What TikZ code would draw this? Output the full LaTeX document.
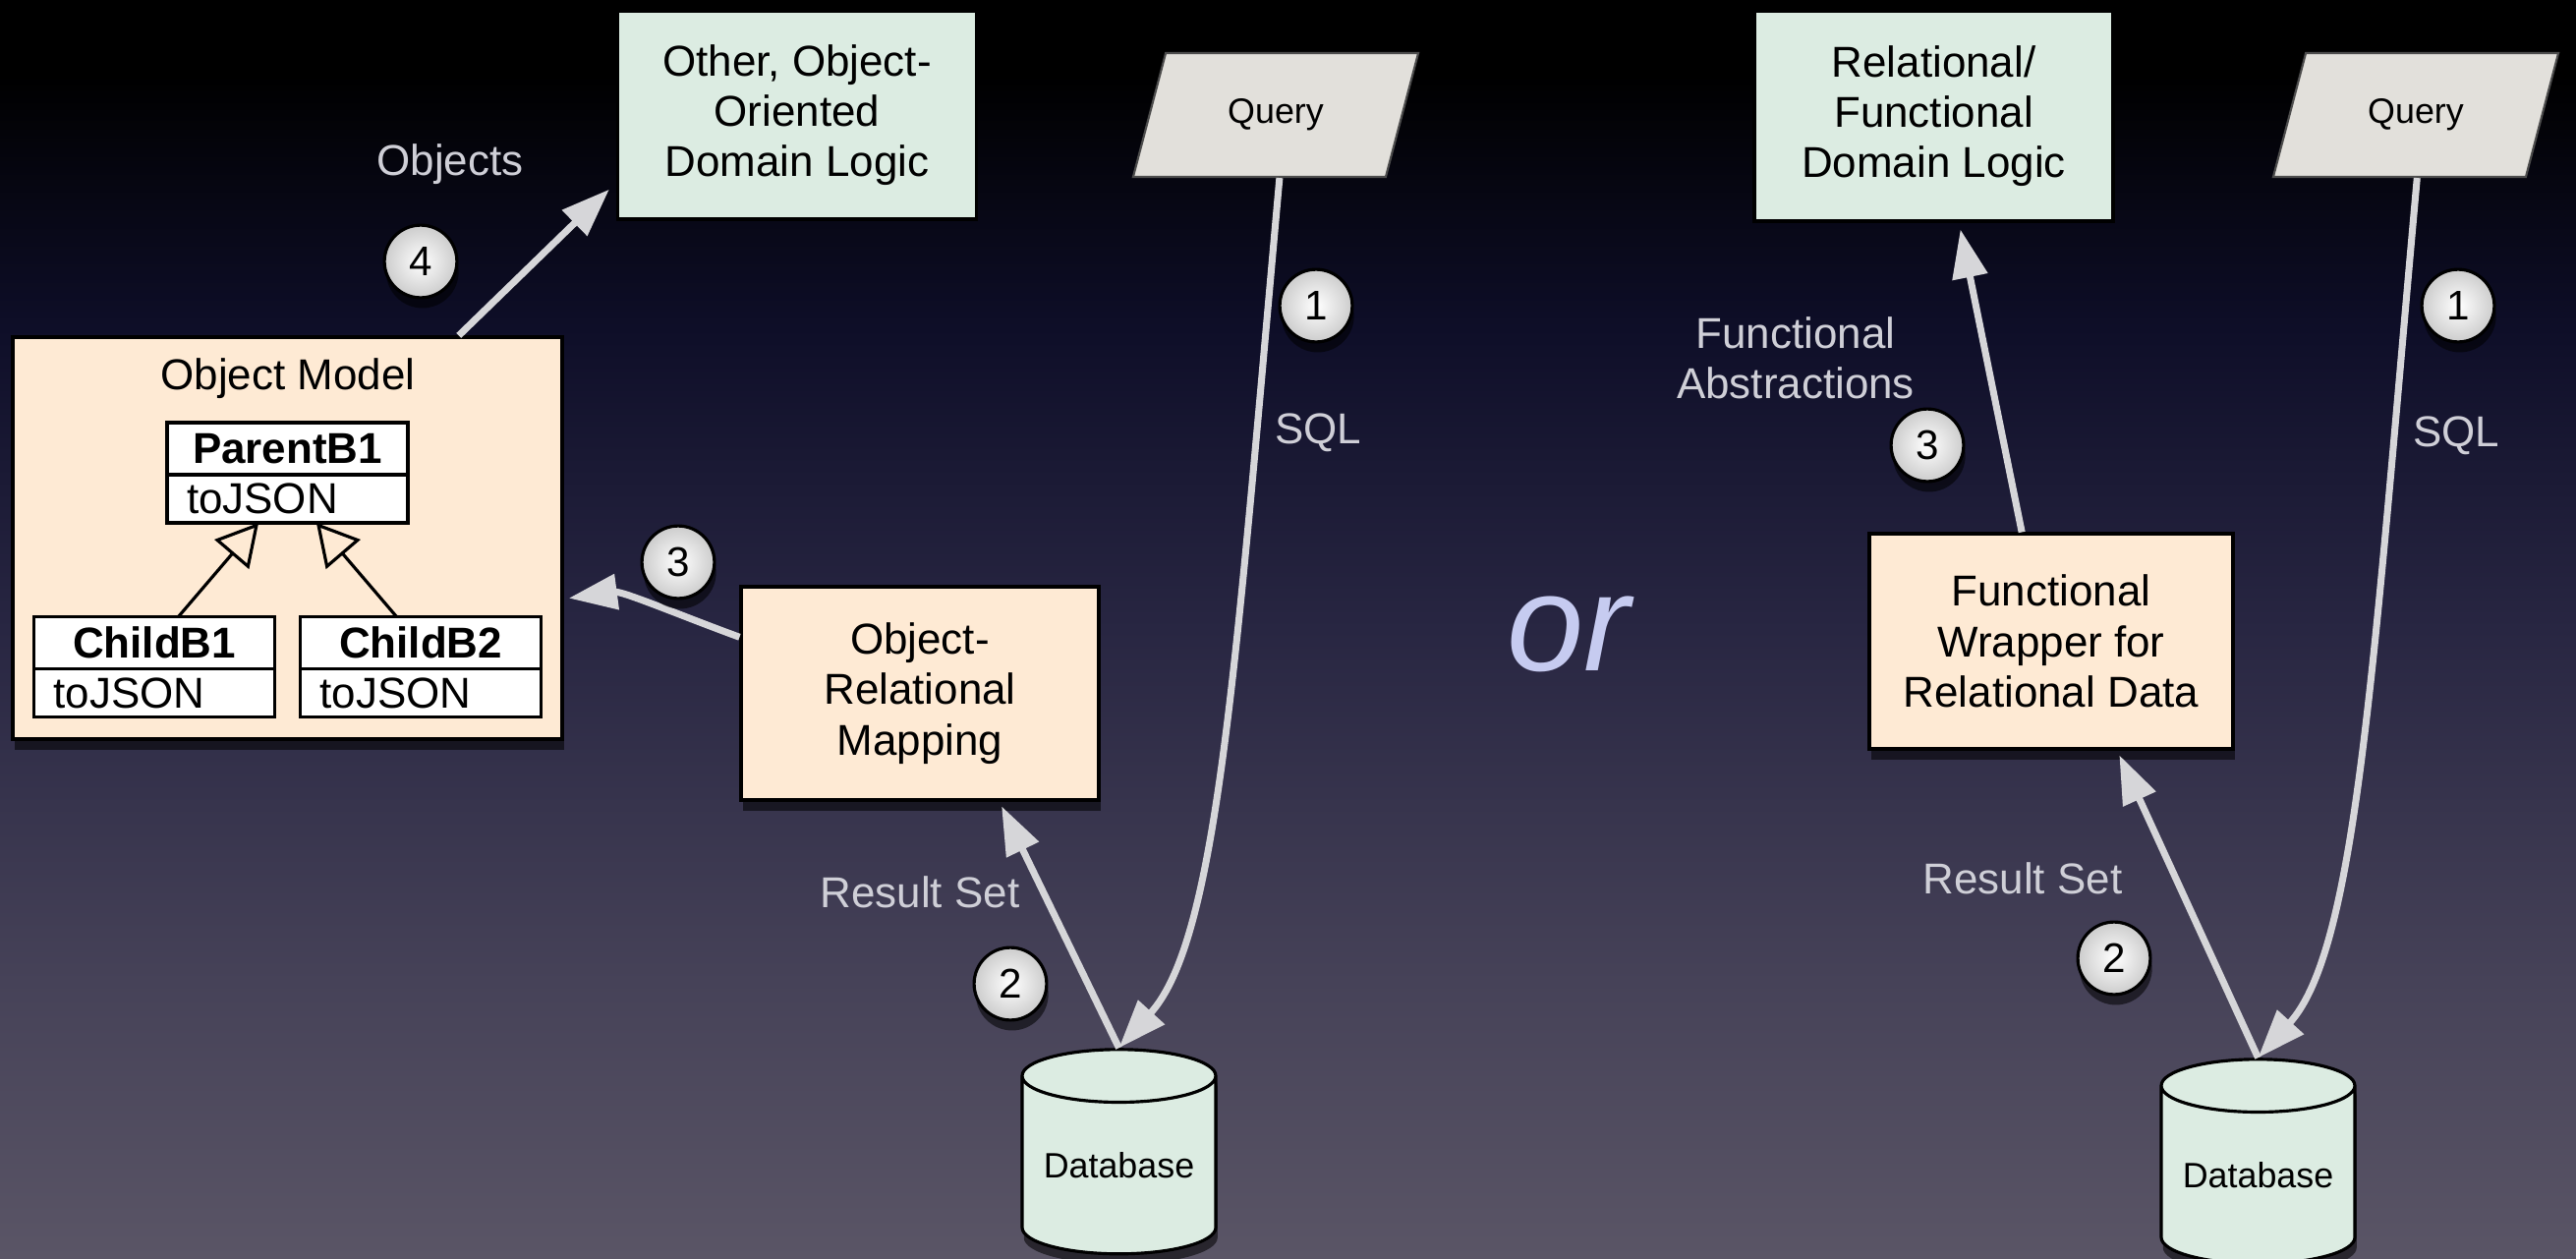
\documentclass[tikz,border=0pt]{standalone}
\usepackage{fontspec}
\setmainfont{Liberation Sans}
\usetikzlibrary{arrows.meta, positioning, calc, shapes.geometric, shadows}
\definecolor{peach}{HTML}{FEEAD4}
\definecolor{mint}{HTML}{DCECE2}
\definecolor{qgray}{HTML}{E2E0DB}
\definecolor{flowgray}{HTML}{D6D6D9}
\definecolor{lblgray}{HTML}{CFCFD7}
\definecolor{orlav}{HTML}{C6CBF0}
\definecolor{bgbot}{RGB}{90,85,102}
\definecolor{bglow}{RGB}{70,66,88}
\definecolor{bgmid}{RGB}{40,38,66}
\definecolor{bgnavy}{RGB}{14,14,40}
\pgfdeclareverticalshading{slidebg}{100bp}{color(0bp)=(bgbot); color(25bp)=(bgbot);
  color(36bp)=(bglow); color(50bp)=(bgmid); color(62bp)=(bgnavy); color(72bp)=(black);
  color(100bp)=(black)}
\newcommand{\mainsize}{\fontsize{12.5}{14.6}\selectfont}
\newcommand{\smallsize}{\fontsize{10.2}{12}\selectfont}

\begin{document}
\begin{tikzpicture}[
    x=0.1mm, y=-0.1mm,
    every node/.style={text=black},
    drop/.style={drop shadow={shadow xshift=0.5pt, shadow yshift=-3pt, opacity=0.55, fill=black}},
    peachbox/.style={draw=black, line width=0.9pt, fill=peach, align=center, font=\mainsize, inner sep=0pt},
    mintbox/.style={draw=black, line width=0.9pt, fill=mint, align=center, font=\mainsize, inner sep=0pt},
    querybox/.style={trapezium, trapezium left angle=66, trapezium right angle=114,
      trapezium stretches=true, minimum width=29.1mm, minimum height=12.6mm,
      draw=black!70, line width=0.6pt, fill=qgray, font=\smallsize, inner sep=0pt},
    dbcyl/.style={cylinder, shape border rotate=90, aspect=0.35, draw=black, line width=0.9pt,
      fill=mint, minimum width=19.7mm, minimum height=20.8mm, font=\smallsize, inner sep=0pt, drop},
    umlhead/.style={draw=black, line width=0.9pt, fill=white, font=\mainsize\bfseries,
      minimum width=24.5mm, minimum height=5.3mm, inner sep=0pt, outer sep=0pt},
    umlbody/.style={draw=black, line width=0.9pt, fill=white, font=\mainsize, align=left,
      text width=20.5mm, inner xsep=2mm, inner ysep=0pt, minimum height=4.9mm, outer sep=0pt},
    inherit/.style={draw=black, line width=0.9pt, -{Triangle[open, length=12pt, width=13pt]}},
    dataflow/.style={draw=flowgray, line width=2pt, -{Triangle[length=14pt, width=10pt]}},
    stepnum/.style={circle, draw=black, line width=0.9pt, inner color=white, outer color=gray!40,
      minimum size=21pt, inner sep=0pt, font=\fontsize{12}{12}\selectfont, drop},
    lbl/.style={text=lblgray, font=\mainsize, align=center},
  ]

  % Background
  \shade[shading=slidebg] (0,0) rectangle (2621,1280);
  \useasboundingbox (0,0) rectangle (2621,1280);

  % === Object-relational side ===
  \node[mintbox, minimum width=36.5mm, minimum height=21.2mm] (oodom) at (811,117)
    {Other, Object-\\Oriented\\Domain Logic};
  \node[querybox] (q1) at (1298,117) {Query};

  % Object model with its classes
  \node[peachbox, drop, minimum width=55.9mm, minimum height=40.9mm] (model) at (292.5,547.5) {};
  \node[font=\mainsize] (modeltitle) at (293,385) {Object Model};
  \node[umlhead] (parent) at (292.5,456.5) {ParentB1};
  \node[umlbody, below=0pt of parent] (parentops) {toJSON};
  \node[umlhead] (child1) at (157,654) {ChildB1};
  \node[umlbody, below=0pt of child1] (child1ops) {toJSON};
  \node[umlhead] (child2) at (428,654) {ChildB2};
  \node[umlbody, below=0pt of child2] (child2ops) {toJSON};
  \draw[inherit] ($(child1.north west)!0.6!(child1.north east)$)
    -- ($(parentops.south west)!0.38!(parentops.south east)$);
  \draw[inherit] ($(child2.north west)!0.4!(child2.north east)$)
    -- ($(parentops.south west)!0.62!(parentops.south east)$);

  \node[peachbox, drop, minimum width=36.4mm, minimum height=21.7mm] (orm) at (936,705.5)
    {Object-\\Relational\\Mapping};
  \node[dbcyl] (db1) at (1138.5,1186) {Database};

  % Flows
  \draw[dataflow] ($(q1.bottom left corner)!0.58!(q1.bottom right corner)$)
    .. controls +(-45,500) and +(100,-110) .. (db1.north);
  \draw[dataflow, shorten >=1.5pt] (db1.north)
    -- ($(orm.south west)!0.72!(orm.south east)$);
  \draw[dataflow, shorten >=1.5pt] ($(orm.north west)!0.24!(orm.south west)$)
    .. controls +(-60,-22) and +(60,-8) .. ($(model.north east)!0.65!(model.south east)$);
  \draw[dataflow, shorten >=2.8pt] ($(model.north west)!0.81!(model.north east)$)
    -- ($(oodom.west)!0.64!(oodom.south west)$);

  \node[stepnum] (n1a) at (1339,311) {1};
  \node[stepnum] (n2a) at (1028,1001) {2};
  \node[stepnum] (n3a) at (690,572) {3};
  \node[stepnum] (n4a) at (428,266) {4};
  \node[lbl] (sqla) at (1341,440) {SQL};
  \node[lbl] (rseta) at (936,908) {Result Set};
  \node[lbl] (objs) at (458,167) {Objects};

  % Separator
  \node[text=orlav, font=\fontsize{40}{40}\selectfont\itshape] (orword) at (1596,645) {or};

  % === Functional side ===
  \node[mintbox, minimum width=36.5mm, minimum height=21.4mm] (reldom) at (1967.5,118)
    {Relational/\\Functional\\Domain Logic};
  \node[querybox] (q2) at (2458,117) {Query};
  \node[peachbox, drop, minimum width=37mm, minimum height=21.9mm] (fw) at (2087,652.5)
    {Functional\\Wrapper for\\Relational Data};
  \node[dbcyl] (db2) at (2297.5,1196) {Database};

  % Flows
  \draw[dataflow] ($(q2.bottom left corner)!0.57!(q2.bottom right corner)$)
    .. controls +(-45,500) and +(100,-110) .. (db2.north);
  \draw[dataflow, shorten >=1.5pt] (db2.north)
    -- ($(fw.south west)!0.68!(fw.south east)$);
  \draw[dataflow, shorten >=2pt] ($(fw.north west)!0.42!(fw.north east)$)
    -- ($(reldom.south west)!0.57!(reldom.south east)$);

  \node[stepnum] (n1b) at (2501,311) {1};
  \node[stepnum] (n2b) at (2151,975) {2};
  \node[stepnum] (n3b) at (1961,453) {3};
  \node[lbl] (sqlb) at (2499,443) {SQL};
  \node[lbl] (rsetb) at (2058,894) {Result Set};
  \node[lbl] (fabs) at (1827,364) {Functional\\Abstractions};

\end{tikzpicture}
\end{document}
